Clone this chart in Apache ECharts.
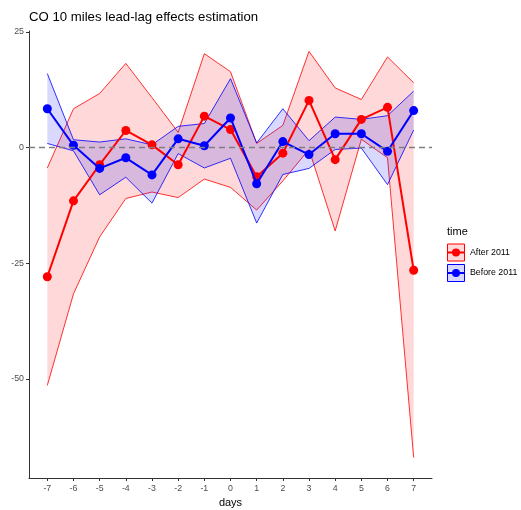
<!DOCTYPE html>
<html>
<head>
<meta charset="utf-8">
<script src="https://cdn.jsdelivr.net/npm/echarts@6/dist/echarts.min.js"></script>
<style>
  html, body { margin: 0; padding: 0; background: #fff; }
  #chart { width: 521px; height: 510px; }
</style>
</head>
<body>
<div id="chart"></div>
<script>
// Lead-lag estimates by day, with confidence bounds
const days = [-7, -6, -5, -4, -3, -2, -1, 0, 1, 2, 3, 4, 5, 6, 7];

const afterEst   = [-27.9, -11.5, -3.7, 3.7, 0.6, -3.7, 6.8, 3.9, -6.3, -1.2, 10.2, -2.6, 6.1, 8.7, -26.5];
const afterUpper = [-4.4, 8.4, 11.7, 18.2, 10.8, 3.3, 20.3, 16.4, 0.9, 4.8, 20.8, 12.9, 10.4, 19.6, 14.0];
const afterLower = [-51.4, -31.6, -19.3, -11.0, -9.6, -10.8, -6.8, -8.6, -13.5, -7.2, -0.4, -18.0, 1.8, -2.2, -67.0];

const beforeEst   = [8.4, 0.5, -4.5, -2.2, -5.9, 1.9, 0.4, 6.4, -7.8, 1.3, -1.5, 3.0, 3.0, -0.8, 8.0];
const beforeUpper = [16.0, 1.7, 1.2, 1.9, 0.6, 4.6, 5.2, 14.9, 1.0, 8.4, 1.5, 6.6, 6.1, 6.9, 12.2];
const beforeLower = [0.9, -0.7, -10.2, -6.4, -12.0, -1.3, -4.4, -2.3, -16.3, -5.8, -4.5, -0.4, -0.1, -8.0, 3.8];

const xTicks = [-7, -6, -5, -4, -3, -2, -1, 0, 1, 2, 3, 4, 5, 6, 7];
const yTicks = [-50, -25, 0, 25];

const RED = '#FF0000';
const BLUE = '#0000FF';
const RED_FILL = 'rgba(255,0,0,0.15)';
const BLUE_FILL = 'rgba(0,0,255,0.15)';
const FONT = '"Liberation Sans", Arial, sans-serif';

// Shaded band between lower and upper bounds, outlined on both edges
function ribbon(name, upper, lower, stroke, fill) {
  return {
    type: 'custom',
    name: name,
    silent: true,
    clip: false,
    data: [0],
    z: 1,
    renderItem: function (params, api) {
      const top = days.map((d, i) => api.coord([d, upper[i]]));
      const bottom = days.map((d, i) => api.coord([d, lower[i]])).reverse();
      return {
        type: 'group',
        children: [
          { type: 'polygon', shape: { points: top.concat(bottom) }, style: { fill: fill, stroke: null } },
          { type: 'polyline', shape: { points: top }, style: { stroke: stroke, lineWidth: 0.8, fill: null } },
          { type: 'polyline', shape: { points: bottom }, style: { stroke: stroke, lineWidth: 0.8, fill: null } }
        ]
      };
    }
  };
}

function estimateLine(name, values, color, z) {
  return {
    type: 'line',
    name: name,
    data: days.map((d, i) => [d, values[i]]),
    symbol: 'circle',
    symbolSize: 9,
    showSymbol: true,
    z: z,
    itemStyle: { color: color },
    lineStyle: { color: color, width: 2 },
    emphasis: { disabled: true },
    animation: false
  };
}

const chart = echarts.init(document.getElementById('chart'), null, { renderer: 'canvas' });

const option = {
  animation: false,
  backgroundColor: '#ffffff',
  textStyle: { fontFamily: FONT },
  title: {
    text: 'CO 10 miles lead-lag effects estimation',
    left: 29,
    top: 11,
    padding: 0,
    textStyle: { fontSize: 13.2, fontWeight: 'normal', color: '#000', fontFamily: FONT }
  },
  grid: { left: 29, right: 89, top: 31, bottom: 32, containLabel: false, outerBoundsMode: 'none' },
  xAxis: {
    type: 'value',
    min: -7.7,
    max: 7.7,
    splitLine: { show: false },
    axisLine: { onZero: false, lineStyle: { color: '#333333', width: 1 } },
    axisTick: { customValues: xTicks, length: 3, lineStyle: { color: '#333333', width: 1 } },
    axisLabel: { customValues: xTicks, color: '#4D4D4D', fontSize: 8.8, margin: 6, fontFamily: FONT },
    name: 'days',
    nameLocation: 'middle',
    nameGap: 19,
    nameTextStyle: { fontSize: 11, color: '#000', fontFamily: FONT }
  },
  yAxis: {
    type: 'value',
    min: -71.4,
    max: 25.2,
    splitLine: { show: false },
    axisLine: { onZero: false, lineStyle: { color: '#333333', width: 1 } },
    axisTick: { customValues: yTicks, length: 3, lineStyle: { color: '#333333', width: 1 } },
    axisLabel: { customValues: yTicks, color: '#4D4D4D', fontSize: 8.8, margin: 5, fontFamily: FONT }
  },
  series: [
    ribbon('After 2011 band', afterUpper, afterLower, RED, RED_FILL),
    ribbon('Before 2011 band', beforeUpper, beforeLower, BLUE, BLUE_FILL),
    {
      type: 'line',
      name: 'zero',
      data: [],
      z: 2,
      markLine: {
        silent: true,
        symbol: 'none',
        label: { show: false },
        lineStyle: { color: '#7F7F7F', type: [6, 4], width: 1.4 },
        data: [{ yAxis: 0 }],
        animation: false
      }
    },
    estimateLine('After 2011', afterEst, RED, 3),
    estimateLine('Before 2011', beforeEst, BLUE, 4)
  ],
  graphic: [
    { type: 'text', left: 447, top: 226, style: { text: 'time', fontSize: 11, fill: '#000', font: '11px ' + FONT } },
    { type: 'rect', shape: { x: 447.5, y: 244, width: 17, height: 17 }, style: { fill: RED_FILL, stroke: RED, lineWidth: 1 } },
    { type: 'line', shape: { x1: 448, y1: 252.5, x2: 464, y2: 252.5 }, style: { stroke: RED, lineWidth: 2 } },
    { type: 'circle', shape: { cx: 456, cy: 252.5, r: 4 }, style: { fill: RED } },
    { type: 'text', x: 470, y: 252.5, style: { text: 'After 2011', font: '8.8px ' + FONT, fill: '#000', verticalAlign: 'middle' } },
    { type: 'rect', shape: { x: 447.5, y: 264.5, width: 17, height: 17 }, style: { fill: BLUE_FILL, stroke: BLUE, lineWidth: 1 } },
    { type: 'line', shape: { x1: 448, y1: 273, x2: 464, y2: 273 }, style: { stroke: BLUE, lineWidth: 2 } },
    { type: 'circle', shape: { cx: 456, cy: 273, r: 4 }, style: { fill: BLUE } },
    { type: 'text', x: 470, y: 273, style: { text: 'Before 2011', font: '8.8px ' + FONT, fill: '#000', verticalAlign: 'middle' } }
  ]
};

chart.setOption(option);
</script>
</body>
</html>
